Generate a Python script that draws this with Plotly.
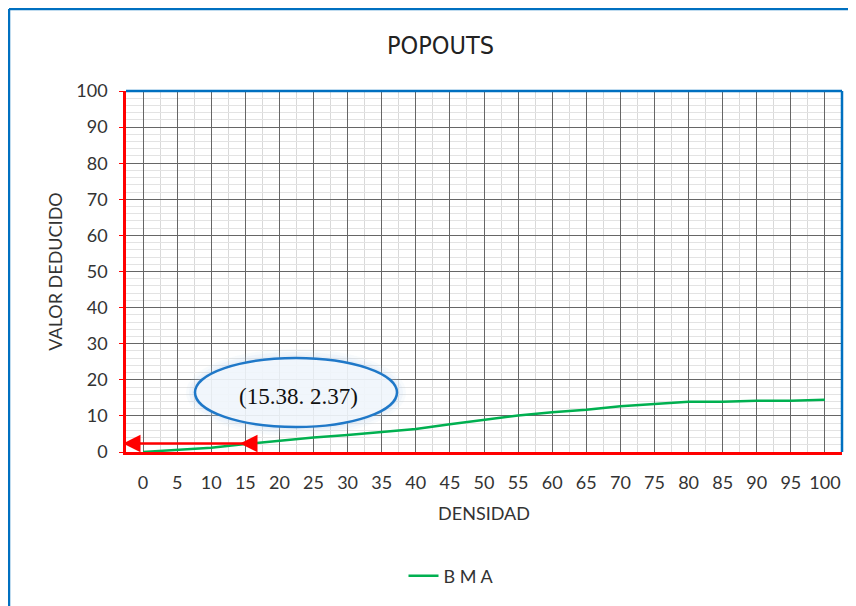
import plotly.graph_objects as go

# ---- data ----
densidad = [0, 5, 10, 15, 20, 25, 30, 35, 40, 45, 50, 55, 60, 65, 70, 75, 80, 85, 90, 95, 100]
valor_deducido = [0, 0.5, 1.2, 2.2, 3.2, 4.0, 4.7, 5.5, 6.4, 7.7, 8.9, 10.1, 11.0, 11.7, 12.7, 13.3, 13.9, 13.9, 14.2, 14.2, 14.5]
series_name = "B M A"
point_x = 15.38
point_y = 2.37
x_ticks = list(range(0, 101, 5))
y_ticks = list(range(0, 101, 10))

OFF = 8  # page body margin
W, H = 848, 598
# plot area in screenshot pixels
SL, ST, SR, SB = 126, 91, 842, 452
L, T = SL - OFF, ST - OFF
R, B = W - (SR - OFF), H - (SB - OFF)
pw, ph = SR - SL, SB - ST

def px_x(p):
    return (p - SL) / pw

def px_y(p):
    return (SB - p) / ph

def data_x(p):
    return (p - SL) / pw * 105 - 2.5

fig = go.Figure()
fig.add_trace(go.Scatter(
    x=densidad, y=valor_deducido, mode="lines", name=series_name,
    line=dict(color="#00B050", width=2.5), showlegend=True,
))

tickfont = dict(family="Lato, Liberation Sans, sans-serif", size=18, color="#333333")

fig.update_xaxes(
    range=[-2.5, 102.5], tickvals=x_ticks, ticktext=[str(v) for v in x_ticks],
    showgrid=True, gridcolor="#666666", gridwidth=1,
    minor=dict(tick0=2.5, dtick=5, showgrid=True, gridcolor="#d9d9d9", gridwidth=1),
    showline=True, linecolor="#ff0000", linewidth=2.5, zeroline=False,
    ticks="", tickfont=tickfont, ticklabelstandoff=13,
    title=dict(text="DENSIDAD", font=dict(family="Lato, Liberation Sans, sans-serif", size=18, color="#333333"), standoff=16),
)
fig.update_yaxes(
    range=[0, 100], tickvals=y_ticks,
    showgrid=True, gridcolor="#666666", gridwidth=1,
    minor=dict(dtick=2, showgrid=True, gridcolor="#e3e3e3", gridwidth=1),
    showline=True, linecolor="#ff0000", linewidth=2.5, zeroline=False,
    ticks="outside", ticklen=4, tickcolor="#ff0000", tickfont=tickfont, ticklabelstandoff=8,
    title=dict(text="VALOR DEDUCIDO", font=dict(family="Lato, Liberation Sans, sans-serif", size=18, color="#333333"), standoff=10),
)

shapes = []
# outer chart frame (blue)
shapes.append(dict(type="line", xref="paper", yref="paper", x0=px_x(9), x1=px_x(9), y0=px_y(9), y1=px_y(H + 20),
                   line=dict(color="#0070C0", width=2.5)))
shapes.append(dict(type="line", xref="paper", yref="paper", x0=px_x(9), x1=px_x(W + 20), y0=px_y(9), y1=px_y(9),
                   line=dict(color="#0070C0", width=2.5)))
# plot area top/right border (blue)
shapes.append(dict(type="line", xref="paper", yref="paper", x0=0, x1=1, y0=1, y1=1, line=dict(color="#0070C0", width=2.5)))
shapes.append(dict(type="line", xref="paper", yref="paper", x0=1, x1=1, y0=0, y1=1, line=dict(color="#0070C0", width=2.5)))
# ellipse glow
cx0, cx1, cy0, cy1 = 195, 397, 427, 358
for g, a in [(9, 0.10), (6, 0.14), (3, 0.18)]:
    shapes.append(dict(type="circle", xref="paper", yref="paper",
                       x0=px_x(cx0 - g), x1=px_x(cx1 + g), y0=px_y(cy0 + g), y1=px_y(cy1 - g),
                       fillcolor=f"rgba(189,215,238,{a})", line=dict(width=0), layer="above"))
shapes.append(dict(type="circle", xref="paper", yref="paper",
                   x0=px_x(cx0), x1=px_x(cx1), y0=px_y(cy0), y1=px_y(cy1),
                   fillcolor="rgba(243,247,252,0.88)", line=dict(color="#1F78C8", width=2.5), layer="above"))

annotations = [
    dict(text="POPOUTS", xref="paper", yref="paper", x=px_x(440), y=px_y(45), showarrow=False,
         font=dict(family="Liberation Sans Narrow, DejaVu Sans Condensed, Lato, sans-serif", size=25, color="#222222"),
         xanchor="center", yanchor="middle"),
    dict(text=f"({point_x}. {point_y})", xref="paper", yref="paper", x=px_x(298), y=px_y(396), showarrow=False,
         font=dict(family="Liberation Serif, Times New Roman, serif", size=23, color="#111111"), xanchor="center", yanchor="middle"),
    # long arrow to the y-axis
    dict(text="", x=data_x(123), y=point_y, xref="x", yref="y", ax=point_x, ay=point_y, axref="x", ayref="y",
         showarrow=True, arrowhead=2, arrowsize=1.4, arrowwidth=2.5, arrowcolor="#ff0000"),
    # arrowhead at the curve
    dict(text="", x=data_x(240), y=point_y, xref="x", yref="y", ax=data_x(254), ay=point_y, axref="x", ayref="y",
         showarrow=True, arrowhead=2, arrowsize=1.4, arrowwidth=2.5, arrowcolor="#ff0000"),
]

fig.update_layout(
    width=W, height=H, margin=dict(l=L, r=R, t=T, b=B),
    paper_bgcolor="white", plot_bgcolor="white",
    shapes=shapes, annotations=annotations,
    legend=dict(orientation="h", x=px_x(451), y=px_y(576), xanchor="center", yanchor="middle",
                font=dict(family="Lato, Liberation Sans, sans-serif", size=18, color="#333333")),
    showlegend=True,
)

fig.write_html("out.html")
